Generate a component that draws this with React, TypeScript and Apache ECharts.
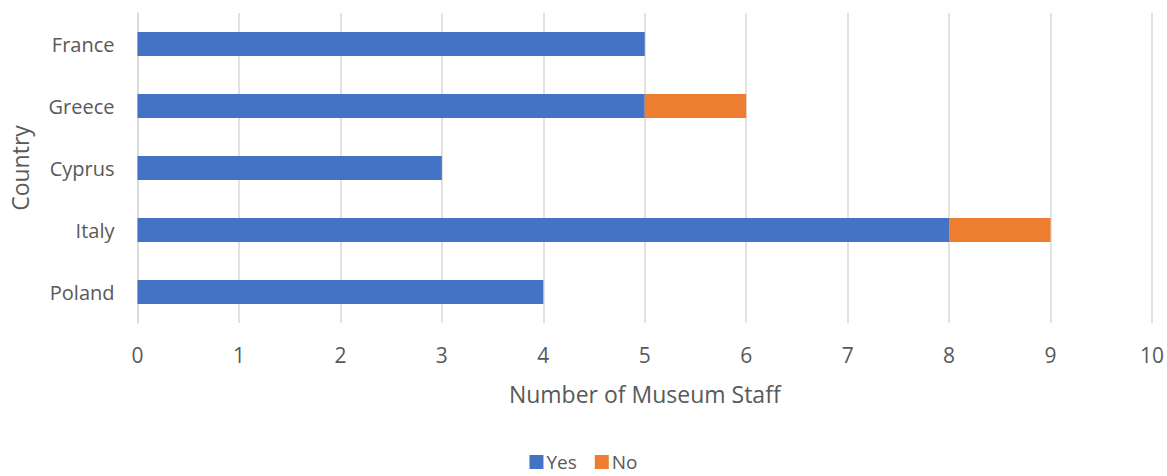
import React, { useEffect, useRef } from "react";
import * as echarts from "echarts";

const categories = ["France", "Greece", "Cyprus", "Italy", "Poland"];
const yesValues = [5, 5, 3, 8, 4];
const noValues = [0, 1, 0, 1, 0];
const seriesNames = ["Yes", "No"];
const xTicks = { min: 0, max: 10, interval: 1 };

export default function App() {
  const ref = useRef<HTMLDivElement>(null);
  useEffect(() => {
    if (!ref.current) return;
    const chart = echarts.init(ref.current, null, { renderer: "svg" });
    const font = "Open Sans";
    chart.setOption({
      animation: false,
      textStyle: { fontFamily: font },
      grid: { left: 137.5, right: 13, top: 13, bottom: 153, containLabel: false },
      legend: {
        data: seriesNames,
        top: 452,
        left: "center",
        padding: 0,
        itemWidth: 14,
        itemHeight: 14,
        itemGap: 18,
        icon: "rect",
        textStyle: {
          fontFamily: font,
          fontSize: 19,
          lineHeight: 20,
          color: "#595959",
          padding: [0, 0, 0, -2],
        },
      },
      xAxis: {
        type: "value",
        min: xTicks.min,
        max: xTicks.max,
        interval: xTicks.interval,
        name: "Number of Museum Staff",
        nameLocation: "middle",
        nameGap: 59,
        nameTextStyle: { fontFamily: font, fontSize: 23, color: "#595959" },
        axisLine: { show: false },
        axisTick: { show: false },
        axisLabel: { fontFamily: font, fontSize: 21, color: "#595959", margin: 21 },
        splitLine: { show: true, lineStyle: { color: "#d9d9d9", width: 1.5 } },
      },
      yAxis: {
        type: "category",
        data: categories,
        inverse: true,
        name: "Country",
        nameLocation: "middle",
        nameGap: 106,
        nameRotate: 90,
        nameTextStyle: { fontFamily: font, fontSize: 23, color: "#595959" },
        axisLine: { show: true, lineStyle: { color: "#d9d9d9", width: 1.5 } },
        axisTick: { show: false },
        axisLabel: { fontFamily: font, fontSize: 20, color: "#595959", margin: 23 },
        splitLine: { show: false },
      },
      series: [
        {
          name: seriesNames[0],
          type: "bar",
          stack: "total",
          data: yesValues,
          barWidth: 24,
          itemStyle: { color: "#4472C4" },
        },
        {
          name: seriesNames[1],
          type: "bar",
          stack: "total",
          data: noValues,
          barWidth: 24,
          itemStyle: { color: "#ED7D31" },
        },
      ],
    });
    return () => chart.dispose();
  }, []);
  return (
    <div
      ref={ref}
      style={{ position: "fixed", left: 0, top: 0, width: 1167, height: 476, background: "#fff" }}
    />
  );
}
